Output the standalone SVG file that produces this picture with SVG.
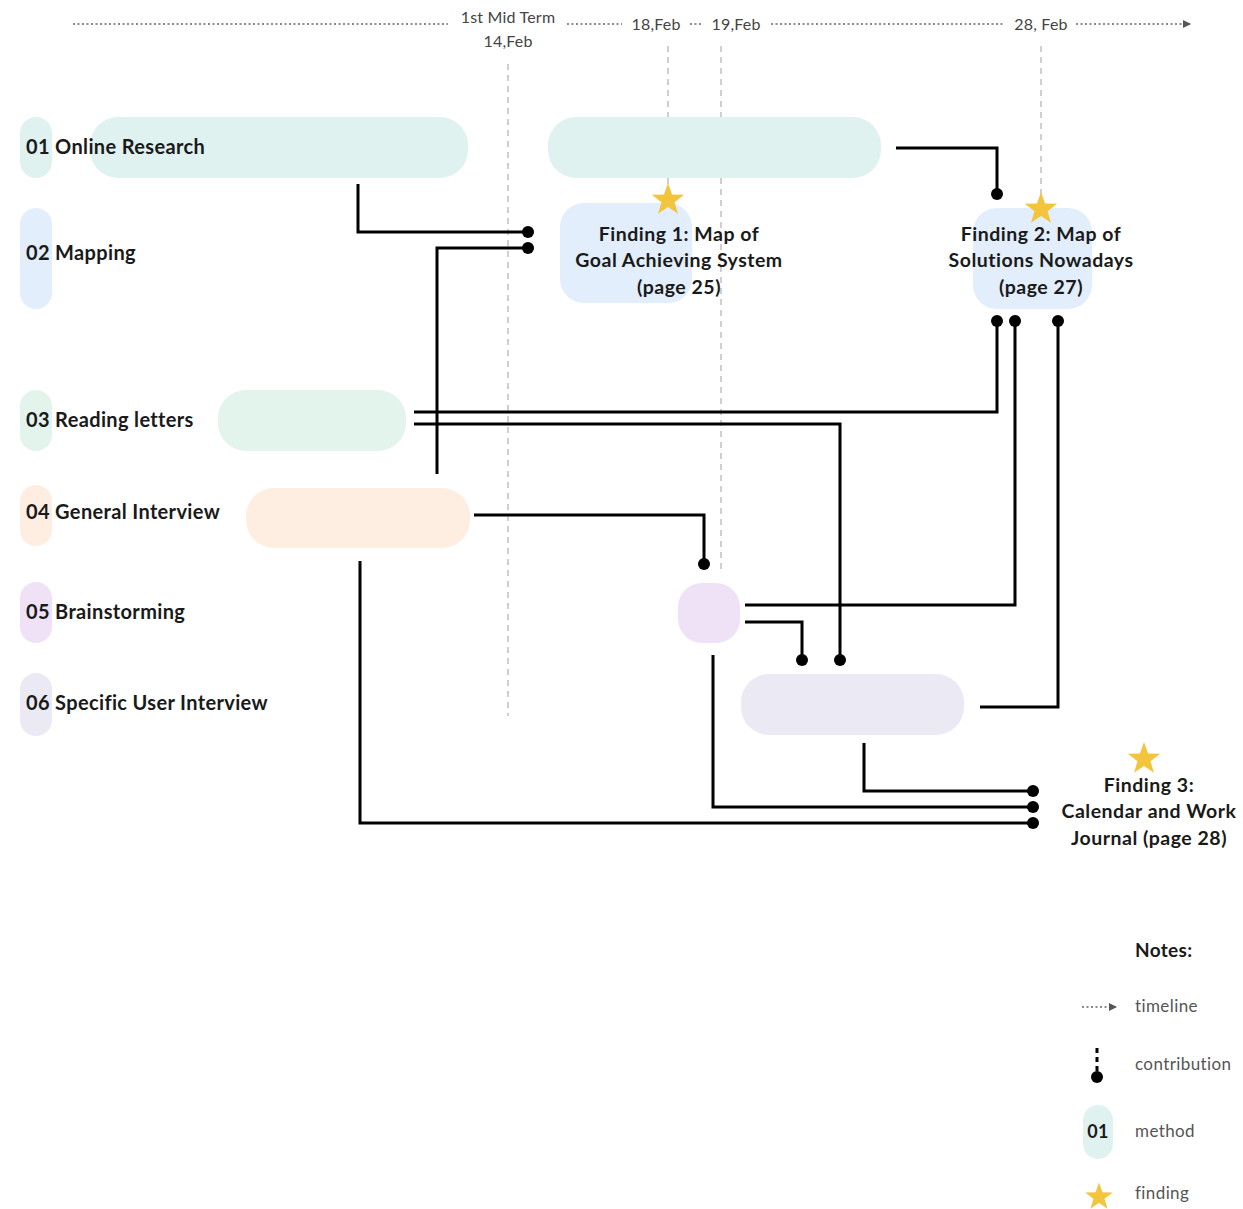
<svg xmlns="http://www.w3.org/2000/svg" width="1243" height="1209" viewBox="0 0 1243 1209">
<style>
.lbl{font-family:Lato,"Open Sans","Liberation Sans",sans-serif;font-weight:700;font-size:20px;letter-spacing:0.35px;fill:#1a1a1a}
.fnd{font-family:Lato,"Open Sans","Liberation Sans",sans-serif;font-weight:700;font-size:19.5px;letter-spacing:0.5px;fill:#1a1a1a;text-anchor:middle}
.tl{font-family:Lato,"Open Sans","Liberation Sans",sans-serif;font-size:16px;letter-spacing:0.2px;fill:#444}
.note{font-family:Lato,"Open Sans","Liberation Sans",sans-serif;font-size:17px;letter-spacing:0.4px;fill:#555}
.dot{stroke:#666;stroke-width:1.5;stroke-dasharray:2 2.5;fill:none}
.vdash{stroke:#cfcfcf;stroke-width:2;stroke-dasharray:6 5;fill:none}
.c{stroke:#000;stroke-width:3;fill:none}
.t1{fill:#dff2f0}.t2{fill:#e2eefb}.t3{fill:#e2f4ec}.t4{fill:#fdeee1}.t5{fill:#efe2f6}.t6{fill:#ebeaf4}
.star{fill:#f2c53d}
</style>
<defs>
<path id="star" d="M0,-17 L4.06,-5.58 L16.17,-5.25 L6.56,2.13 L9.99,13.75 L0,6.9 L-9.99,13.75 L-6.56,2.13 L-16.17,-5.25 L-4.06,-5.58 Z"/>
<marker id="arr" markerWidth="8" markerHeight="8" refX="7" refY="4" orient="auto" markerUnits="userSpaceOnUse"><path d="M0,0 L8,4 L0,8 Z" fill="#555"/></marker>
</defs>

<g id="timeline">
<line class="dot" x1="73" y1="24" x2="448" y2="24"/>
<line class="dot" x1="567" y1="24" x2="622" y2="24"/>
<line class="dot" x1="690" y1="24" x2="703" y2="24"/>
<line class="dot" x1="771" y1="24" x2="1005" y2="24"/>
<line class="dot" x1="1076" y1="24" x2="1190" y2="24" marker-end="url(#arr)"/>
<text class="tl" x="508" y="23" text-anchor="middle">1st Mid Term</text>
<text class="tl" x="508" y="47" text-anchor="middle">14,Feb</text>
<text class="tl" x="656" y="30" text-anchor="middle">18,Feb</text>
<text class="tl" x="736" y="30" text-anchor="middle">19,Feb</text>
<text class="tl" x="1041" y="30" text-anchor="middle">28, Feb</text>
<line class="vdash" x1="508" y1="64" x2="508" y2="716"/>
<line class="vdash" x1="668" y1="46" x2="668" y2="185"/>
<line class="vdash" x1="1041" y1="46" x2="1041" y2="195"/>
<line class="vdash" x1="721" y1="46" x2="721" y2="570"/>
</g>

<g id="m01">
<rect class="t1" x="20" y="117" width="32" height="61" rx="16"/>
<rect class="t1" x="90" y="117" width="378" height="61" rx="28"/>
<rect class="t1" x="548" y="117" width="333" height="61" rx="28"/>
<text class="lbl" x="26" y="154">01 Online Research</text>
</g>
<g id="m02">
<rect class="t2" x="20" y="208" width="32" height="101" rx="16"/>
<text class="lbl" x="26" y="260">02 Mapping</text>
</g>
<g id="m03">
<rect class="t3" x="20" y="390" width="32" height="61" rx="16"/>
<rect class="t3" x="218" y="390" width="188" height="61" rx="28"/>
<text class="lbl" x="26" y="427">03 Reading letters</text>
</g>
<g id="m04">
<rect class="t4" x="20" y="485" width="32" height="61" rx="16"/>
<rect class="t4" x="246" y="488" width="224" height="60" rx="28"/>
<text class="lbl" x="26" y="519">04 General Interview</text>
</g>
<g id="m05">
<rect class="t5" x="20" y="582" width="32" height="61" rx="16"/>
<rect class="t5" x="678" y="583" width="62" height="60" rx="24"/>
<text class="lbl" x="26" y="619">05 Brainstorming</text>
</g>
<g id="m06">
<rect class="t6" x="20" y="673" width="32" height="63" rx="16"/>
<rect class="t6" x="741" y="674" width="223" height="61" rx="28"/>
<text class="lbl" x="26" y="710">06 Specific User Interview</text>
</g>

<g id="finding1">
<rect class="t2" x="560" y="203" width="132" height="100" rx="24"/>
<use href="#star" class="star" x="668" y="200"/>
<text class="fnd" x="679" y="241">Finding 1: Map of</text>
<text class="fnd" x="679" y="267">Goal Achieving System</text>
<text class="fnd" x="679" y="294">(page 25)</text>
</g>
<g id="finding2">
<rect class="t2" x="973" y="208" width="119" height="101" rx="24"/>
<use href="#star" class="star" x="1041" y="209"/>
<text class="fnd" x="1041" y="241">Finding 2: Map of</text>
<text class="fnd" x="1041" y="267">Solutions Nowadays</text>
<text class="fnd" x="1041" y="294">(page 27)</text>
</g>
<g id="finding3">
<use href="#star" class="star" x="1144" y="759"/>
<text class="fnd" x="1149" y="792">Finding 3:</text>
<text class="fnd" x="1149" y="818">Calendar and Work</text>
<text class="fnd" x="1149" y="845">Journal (page 28)</text>
</g>

<g id="connectors">
<path class="c" d="M358,184 V232 H528"/>
<path class="c" d="M437,474 V248 H528"/>
<path class="c" d="M896,148 H997 V194"/>
<path class="c" d="M414,412 H997 V321"/>
<path class="c" d="M414,424 H840 V660"/>
<path class="c" d="M474,515 H704 V564"/>
<path class="c" d="M745,605 H1015 V321"/>
<path class="c" d="M745,622 H802 V660"/>
<path class="c" d="M980,707 H1058 V321"/>
<path class="c" d="M864,743 V791 H1033"/>
<path class="c" d="M713,655 V807 H1033"/>
<path class="c" d="M360,561 V823 H1033"/>
<g fill="#000">
<circle cx="528" cy="232" r="6"/>
<circle cx="528" cy="248" r="6"/>
<circle cx="997" cy="194" r="6"/>
<circle cx="997" cy="321" r="6"/>
<circle cx="1015" cy="321" r="6"/>
<circle cx="1058" cy="321" r="6"/>
<circle cx="704" cy="564" r="6"/>
<circle cx="802" cy="660" r="6"/>
<circle cx="840" cy="660" r="6"/>
<circle cx="1033" cy="791" r="6"/>
<circle cx="1033" cy="807" r="6"/>
<circle cx="1033" cy="823" r="6"/>
</g>
</g>

<g id="legend">
<text class="lbl" x="1135" y="957" style="font-size:19px">Notes:</text>
<line class="dot" x1="1082" y1="1007" x2="1116" y2="1007" marker-end="url(#arr)"/>
<text class="note" x="1135" y="1012">timeline</text>
<line stroke="#000" stroke-width="3" stroke-dasharray="5 4" x1="1097" y1="1048" x2="1097" y2="1072"/>
<circle cx="1097" cy="1077" r="6" fill="#000"/>
<text class="note" x="1135" y="1070">contribution</text>
<rect class="t1" x="1083" y="1105" width="30" height="54" rx="15"/>
<text class="lbl" x="1098" y="1138" text-anchor="middle" style="font-size:18px">01</text>
<text class="note" x="1135" y="1137">method</text>
<use href="#star" class="star" transform="translate(1099,1197) scale(0.85)"/>
<text class="note" x="1135" y="1199">finding</text>
</g>
</svg>
